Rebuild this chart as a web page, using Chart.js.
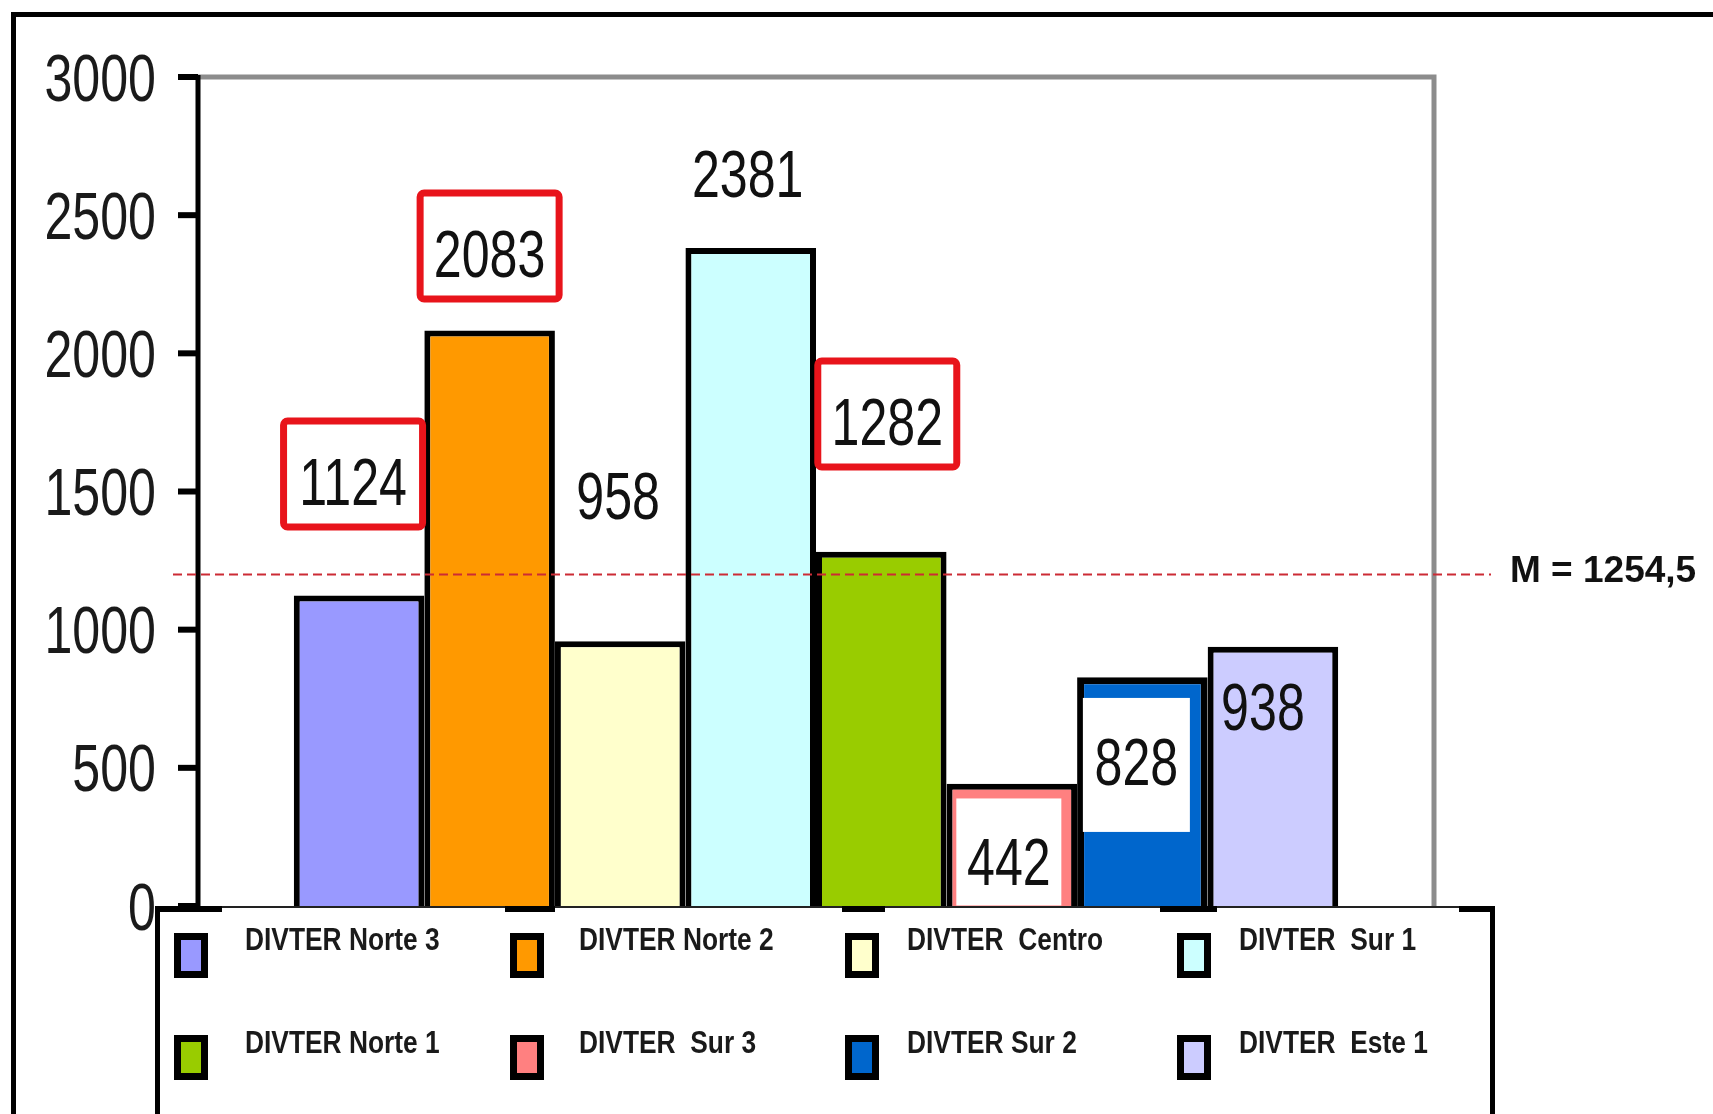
<!DOCTYPE html>
<html>
<head>
<meta charset="utf-8">
<script src="https://cdn.jsdelivr.net/npm/chart.js@4.4.1/dist/chart.umd.min.js"></script>
<style>
html, body { margin: 0; padding: 0; background: #fff; }
#wrap { width: 1713px; height: 1114px; }
</style>
</head>
<body>
<div id="wrap"><canvas id="divterChart" width="1713" height="1114"></canvas></div>
<script>
const seriesNames = ["DIVTER Norte 3", "DIVTER Norte 2", "DIVTER  Centro", "DIVTER  Sur 1",
                     "DIVTER Norte 1", "DIVTER  Sur 3", "DIVTER Sur 2", "DIVTER  Este 1"];
const seriesValues = [1124, 2083, 958, 2381, 1282, 442, 828, 938];
const seriesColors = ["#9999ff", "#ff9900", "#ffffcc", "#ccffff", "#99cc00", "#ff8080", "#0066cc", "#ccccff"];
const yTickValues = [0, 500, 1000, 1500, 2000, 2500, 3000];
const meanText = "M = 1254,5";
const meanLineValue = 1200;   // where the dashed line is drawn in the picture
// height (axis units) where each value label sits
const labelLevels = [1538, 2363, 1487, 2653, 1755, 163, 525, 724];

// label boxes: red framed, plain white, or none
const labelStyles = [
    { box: "red", dx: -6, w: 146, h: 113, dy: -7 },
    { box: "red", dx: 0, w: 146, h: 113, dy: -7 },
    { box: null, dx: -2 },
    { box: null, dx: -3 },
    { box: "red", dx: 6, w: 146, h: 113, dy: -7 },
    { box: "white", dx: -3, w: 105, h: 107, dy: -9 },
    { box: "white", dx: -6, w: 107, h: 134, dy: 4 },
    { box: null, dx: -10 }
];

const NUM_FONT = 66;
const NUM_SX = 0.76;

function narrowText(ctx, text, x, baseline, font, sx, align) {
    ctx.save();
    ctx.font = font;
    ctx.textAlign = "left";
    ctx.textBaseline = "alphabetic";
    const w = ctx.measureText(text).width * sx;
    let left = x;
    if (align === "center") left = x - w / 2;
    else if (align === "right") left = x - w;
    ctx.translate(left, baseline);
    ctx.scale(sx, 1);
    ctx.fillText(text, 0, 0);
    ctx.restore();
}

const decorPlugin = {
    id: "decor",
    afterDraw(chart) {
        const ctx = chart.ctx;
        const area = chart.chartArea;
        const y = chart.scales.y;

        ctx.save();
        // grey plot frame (top + right)
        ctx.strokeStyle = "#8c8c8c";
        ctx.lineWidth = 5;
        ctx.beginPath();
        ctx.moveTo(area.left, area.top);
        ctx.lineTo(area.right, area.top);
        ctx.lineTo(area.right, area.bottom);
        ctx.stroke();

        // value axis and tick marks
        ctx.strokeStyle = "#000";
        ctx.lineWidth = 5;
        ctx.beginPath();
        ctx.moveTo(area.left, area.top - 2);
        ctx.lineTo(area.left, area.bottom);
        ctx.stroke();
        ctx.lineWidth = 6;
        ctx.fillStyle = "#1a1a1a";
        yTickValues.forEach(v => {
            const py = y.getPixelForValue(v);
            ctx.beginPath();
            ctx.moveTo(area.left - 20, py);
            ctx.lineTo(area.left, py);
            ctx.stroke();
            narrowText(ctx, String(v), area.left - 42, py + NUM_FONT * 0.358,
                NUM_FONT + "px 'Liberation Sans', Arial, sans-serif", NUM_SX, "right");
        });

        // mean line
        const my = y.getPixelForValue(meanLineValue);
        ctx.strokeStyle = "#cc2b35";
        ctx.lineWidth = 2;
        ctx.setLineDash([9, 5]);
        ctx.beginPath();
        ctx.moveTo(173, my);
        ctx.lineTo(1491, my);
        ctx.stroke();
        ctx.setLineDash([]);
        ctx.fillStyle = "#111";
        ctx.font = "bold 37px 'Liberation Sans', Arial, sans-serif";
        ctx.textBaseline = "alphabetic";
        ctx.textAlign = "left";
        ctx.fillText(meanText, 1510, my + 8);

        // value labels
        chart.data.datasets.forEach((ds, i) => {
            const bar = chart.getDatasetMeta(i).data[0];
            const st = labelStyles[i];
            const cx = bar.x + st.dx;
            const cy = y.getPixelForValue(labelLevels[i]);
            if (st.box === "red") {
                ctx.fillStyle = "#fff";
                ctx.strokeStyle = "#e8141b";
                ctx.lineWidth = 7;
                ctx.beginPath();
                ctx.roundRect(cx - st.w / 2 + 3.5, cy + st.dy - st.h / 2 + 3.5, st.w - 7, st.h - 7, 4);
                ctx.fill();
                ctx.stroke();
            } else if (st.box === "white") {
                ctx.fillStyle = "#fff";
                ctx.fillRect(cx - st.w / 2, cy + st.dy - st.h / 2, st.w, st.h);
            }
            ctx.fillStyle = "#111";
            narrowText(ctx, String(ds.data[0]), cx, cy + NUM_FONT * 0.358,
                NUM_FONT + "px 'Liberation Sans', Arial, sans-serif", NUM_SX, "center");
        });

        // legend box
        const lx0 = 157, lx1 = 1492, ly0 = area.bottom;
        ctx.fillStyle = "#fff";
        ctx.fillRect(lx0, ly0, lx1 - lx0, chart.height - ly0);
        ctx.fillStyle = "#222";
        ctx.fillRect(lx0, ly0, lx1 - lx0, 2);
        ctx.fillStyle = "#000";
        ctx.fillRect(lx0 - 2, ly0, 5, chart.height - ly0);
        ctx.fillRect(lx1 - 2, ly0, 5, chart.height - ly0);
        [[155, 222], [505, 555], [842, 885], [1160, 1217], [1459, 1494]].forEach(s => {
            ctx.fillRect(s[0], ly0, s[1] - s[0], 6);
        });

        const markX = [174, 510, 845, 1177];
        const textX = [245, 579, 907, 1239];
        const markTop = [933, 1035];
        const textMid = [939, 1042];
        chart.data.datasets.forEach((ds, i) => {
            const col = i % 4, row = Math.floor(i / 4);
            ctx.fillStyle = "#000";
            ctx.fillRect(markX[col], markTop[row], 34, 45);
            ctx.fillStyle = ds.backgroundColor;
            ctx.fillRect(markX[col] + 7, markTop[row] + 7, 20, 31);
            ctx.fillStyle = "#1a1a1a";
            narrowText(ctx, ds.label, textX[col], textMid[row] + 11,
                "bold 31px 'Liberation Sans', Arial, sans-serif", 0.85, "left");
        });

        // outer frame
        ctx.fillStyle = "#000";
        ctx.fillRect(11, 12, 5, chart.height - 12);
        ctx.fillRect(11, 12, chart.width - 11, 5);
        ctx.restore();
    }
};

new Chart(document.getElementById("divterChart"), {
    type: "bar",
    data: {
        labels: [""],
        datasets: seriesNames.map((name, i) => ({
            label: name,
            data: [seriesValues[i]],
            backgroundColor: seriesColors[i],
            borderColor: "#000",
            borderSkipped: "bottom",
            borderWidth: i === 6 ? 7 : 6
        }))
    },
    options: {
        responsive: false,
        animation: false,
        devicePixelRatio: 1,
        events: [],
        layout: { padding: { left: 198, top: 77, right: 279, bottom: 208 } },
        datasets: { bar: { barPercentage: 1, categoryPercentage: 0.845 } },
        plugins: { legend: { display: false }, tooltip: { enabled: false } },
        scales: {
            x: { display: false, offset: true },
            y: { display: false, min: 0, max: 3000 }
        }
    },
    plugins: [decorPlugin]
});
</script>
</body>
</html>
